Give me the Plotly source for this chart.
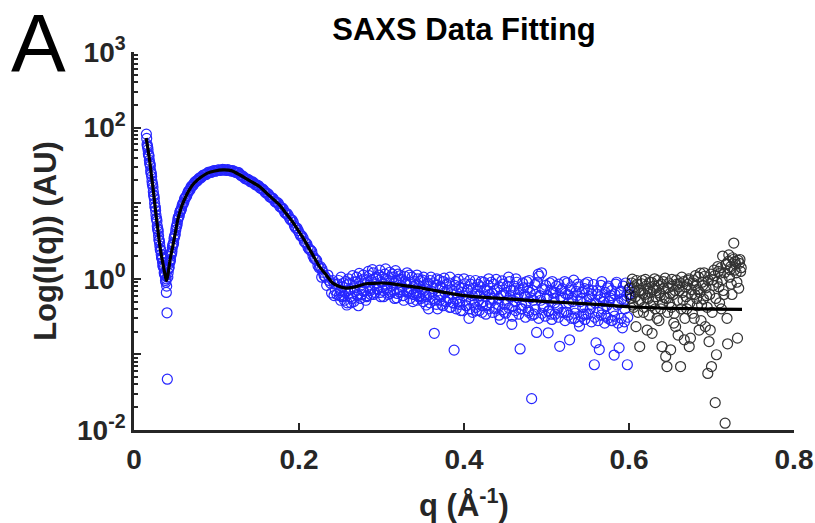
import plotly.graph_objects as go

# --- datos (q en 1/A, I en unidades arbitrarias) ---

# curva ajustada
q_fit = [0.0148, 0.0168, 0.0188, 0.0208, 0.0228, 0.0249, 0.0269, 0.0289, 0.0309, 0.0330,
         0.0350, 0.0370, 0.0390, 0.0395, 0.0410, 0.0440, 0.0470, 0.0500, 0.0530, 0.0570,
         0.0610, 0.0670, 0.0730, 0.0810, 0.0890, 0.0980, 0.1080, 0.1180, 0.1280, 0.1400,
         0.1520, 0.1640, 0.1760, 0.1840, 0.1920, 0.2000, 0.2086, 0.2170, 0.2247, 0.2330,
         0.2408, 0.2490, 0.2570, 0.2650, 0.2730, 0.2810, 0.2900, 0.3000, 0.3100, 0.3250,
         0.3420, 0.3600, 0.3800, 0.4000, 0.4300, 0.4670, 0.5000, 0.5400, 0.5700, 0.6000,
         0.6500, 0.7000, 0.7370]
I_fit = [73, 53, 37.5, 25, 16.6, 10.5, 6.7, 4.5, 2.97, 2.1,
         1.6, 1.22, 0.97, 0.95, 1.12, 1.86, 2.7, 4.0, 6.0, 8.6,
         11.1, 15.0, 18.5, 22.0, 25.0, 26.7, 27.6, 27.0, 23.8, 19.9,
         16.6, 12.6, 9.55, 7.4, 5.7, 4.2, 2.97, 2.04, 1.46, 1.12,
         0.877, 0.79, 0.753, 0.77, 0.81, 0.86, 0.87, 0.88, 0.87, 0.82,
         0.776, 0.716, 0.65, 0.60, 0.565, 0.53, 0.50, 0.473, 0.452, 0.427,
         0.407, 0.398, 0.394]

# datos usados en el ajuste (azul), zona suave
q_blue_low = [0.0150, 0.0158, 0.0166, 0.0174, 0.0182, 0.0190, 0.0198, 0.0206, 0.0214, 0.0222,
              0.0230, 0.0238, 0.0246, 0.0254, 0.0262, 0.0270, 0.0278, 0.0286, 0.0294, 0.0302,
              0.0310, 0.0318, 0.0326, 0.0334, 0.0342, 0.0350, 0.0358, 0.0366, 0.0374, 0.0382,
              0.0390, 0.0392, 0.0396, 0.0400, 0.0404, 0.0410, 0.0418, 0.0426, 0.0434, 0.0442,
              0.0450, 0.0460, 0.0470, 0.0480, 0.0490, 0.0500, 0.0512, 0.0524, 0.0536, 0.0548,
              0.0560, 0.0575, 0.0590, 0.0605, 0.0620, 0.0640, 0.0660, 0.0680, 0.0700, 0.0720,
              0.0745, 0.0770, 0.0795, 0.0820, 0.0850, 0.0880, 0.0910, 0.0940, 0.0970, 0.1000,
              0.1030, 0.1060, 0.1090, 0.1120, 0.1150, 0.1180, 0.1210, 0.1240, 0.1270, 0.1300,
              0.1330, 0.1360, 0.1390, 0.1420, 0.1450, 0.1480, 0.1510, 0.1540, 0.1570, 0.1600,
              0.1630, 0.1660, 0.1690, 0.1720, 0.1750, 0.1780, 0.1810, 0.1840, 0.1870, 0.1900,
              0.1930, 0.1960, 0.1990, 0.2020, 0.2050, 0.2080, 0.2110, 0.2140, 0.2170, 0.2200,
              0.2230, 0.2260, 0.2275, 0.2290, 0.2320, 0.2335, 0.2350, 0.2380, 0.2395, 0.2410,
              0.2425, 0.2440]
I_blue_low = [82, 60, 55, 45, 42, 34, 31, 25, 22.5, 18,
              16.2, 12.8, 11.5, 9.0, 8.0, 6.3, 5.8, 4.6, 4.2, 3.3,
              3.0, 2.45, 2.35, 1.9, 1.85, 1.5, 1.5, 1.2, 1.2, 0.95,
              1.0, 0.66, 0.80, 0.355, 0.047, 1.05, 1.35, 1.42, 1.72, 1.8,
              2.2, 2.3, 2.8, 3.0, 3.6, 3.9, 4.8, 5.4, 6.5, 6.8,
              7.9, 8.4, 9.8, 10.4, 11.8, 12.6, 14.4, 15.2, 16.9, 17.5,
              19.4, 20.0, 21.6, 22.1, 23.8, 24.2, 25.8, 25.7, 26.9, 26.8,
              27.7, 27.3, 27.9, 27.2, 27.5, 26.6, 26.5, 25.4, 25.3, 23.0,
              22.3, 20.9, 20.4, 19.1, 18.6, 17.4, 17.0, 15.6, 15.0, 13.6,
              13.1, 11.9, 11.4, 10.3, 9.9, 8.8, 8.3, 7.3, 6.9, 6.0,
              5.6, 4.7, 4.35, 3.7, 3.45, 3.0, 2.6, 2.4, 2.0, 1.82,
              1.5, 1.45, 1.05, 1.22, 1.05, 0.82, 1.12, 0.88, 0.65, 0.95,
              0.60, 0.70]

# puntos intermedios de la misma zona
q_blue_low2 = [0.0154, 0.0162, 0.0170, 0.0178, 0.0186, 0.0194, 0.0202, 0.0210, 0.0218, 0.0226,
               0.0234, 0.0242, 0.0250, 0.0258, 0.0266, 0.0274, 0.0282, 0.0290, 0.0298, 0.0306,
               0.0314, 0.0322, 0.0330, 0.0338, 0.0346, 0.0354, 0.0362, 0.0370, 0.0378, 0.0386,
               0.0414, 0.0422, 0.0430, 0.0438, 0.0446, 0.0455, 0.0465, 0.0475, 0.0485, 0.0495,
               0.0506, 0.0518, 0.0530, 0.0542, 0.0554, 0.0567, 0.0582, 0.0597, 0.0612, 0.0630,
               0.0650, 0.0670, 0.0690, 0.0710, 0.0732, 0.0757, 0.0782, 0.0807, 0.0835, 0.0865,
               0.0895, 0.0925, 0.0955, 0.0985, 0.1015, 0.1045, 0.1075, 0.1105, 0.1135, 0.1165,
               0.1195, 0.1225, 0.1255, 0.1285, 0.1315, 0.1345, 0.1375, 0.1405, 0.1435, 0.1465,
               0.1495, 0.1525, 0.1555, 0.1585, 0.1615, 0.1645, 0.1675, 0.1705, 0.1735, 0.1765,
               0.1795, 0.1825, 0.1855, 0.1885, 0.1915, 0.1945, 0.1975, 0.2005, 0.2035, 0.2065,
               0.2095, 0.2125, 0.2155, 0.2185, 0.2215, 0.2245, 0.2278, 0.2305, 0.2365, 0.2428]
I_blue_low2 = [72, 57, 51, 43, 37, 33, 27, 24.5, 19.5, 17.5,
               14.2, 12.4, 10.0, 8.8, 7.0, 6.2, 5.0, 4.5, 3.7, 3.2,
               2.7, 2.4, 2.1, 1.95, 1.65, 1.45, 1.38, 1.15, 1.1, 0.9,
               1.2, 1.38, 1.6, 1.7, 2.0, 2.15, 2.6, 2.85, 3.4, 3.7,
               4.4, 5.0, 6.0, 6.6, 7.5, 8.0, 9.2, 9.9, 11.3, 12.0,
               13.6, 14.6, 16.3, 17.0, 18.6, 19.4, 21.0, 21.6, 23.3, 23.8,
               25.3, 25.5, 26.6, 26.5, 27.5, 27.2, 28.0, 27.3, 27.8, 26.9,
               26.9, 25.8, 25.6, 23.9, 23.0, 21.2, 20.8, 19.5, 19.2, 17.8,
               17.3, 16.0, 15.5, 14.2, 13.6, 12.2, 11.8, 10.6, 10.3, 9.1,
               8.7, 7.6, 7.3, 6.3, 6.0, 5.0, 4.7, 4.0, 3.7, 3.1,
               2.9, 2.45, 2.3, 1.85, 1.75, 1.4, 1.35, 1.1, 0.95, 0.85]

# datos usados en el ajuste (azul), zona ruidosa
q_blue_high = [0.246, 0.248, 0.250, 0.252, 0.254, 0.256, 0.258, 0.260, 0.262, 0.264,
               0.266, 0.268, 0.270, 0.272, 0.274, 0.276, 0.278, 0.280, 0.282, 0.284,
               0.286, 0.288, 0.290, 0.292, 0.294, 0.296, 0.298, 0.300, 0.302, 0.304,
               0.306, 0.308, 0.310, 0.312, 0.314, 0.316, 0.318, 0.320, 0.322, 0.324,
               0.326, 0.328, 0.330, 0.332, 0.334, 0.336, 0.338, 0.340, 0.342, 0.344,
               0.346, 0.348, 0.350, 0.352, 0.354, 0.356, 0.358, 0.360, 0.362, 0.364,
               0.366, 0.368, 0.370, 0.372, 0.374, 0.376, 0.378, 0.380, 0.382, 0.384,
               0.386, 0.388, 0.390, 0.392, 0.394, 0.396, 0.398, 0.400, 0.402, 0.404,
               0.406, 0.408, 0.410, 0.412, 0.414, 0.416, 0.418, 0.420, 0.422, 0.424,
               0.426, 0.428, 0.430, 0.432, 0.434, 0.436, 0.438, 0.440, 0.442, 0.444,
               0.446, 0.448, 0.450, 0.452, 0.454, 0.456, 0.458, 0.460, 0.462, 0.464,
               0.466, 0.468, 0.470, 0.472, 0.474, 0.476, 0.478, 0.480, 0.482, 0.484,
               0.486, 0.488, 0.490, 0.492, 0.494, 0.496, 0.498, 0.500, 0.502, 0.504,
               0.506, 0.508, 0.510, 0.512, 0.514, 0.516, 0.518, 0.520, 0.522, 0.524,
               0.526, 0.528, 0.530, 0.532, 0.534, 0.536, 0.538, 0.540, 0.542, 0.544,
               0.546, 0.548, 0.550, 0.552, 0.554, 0.556, 0.558, 0.560, 0.562, 0.564,
               0.566, 0.568, 0.570, 0.572, 0.574, 0.576, 0.578, 0.580, 0.582, 0.584,
               0.586, 0.588, 0.590, 0.592, 0.594, 0.596, 0.598, 0.600]
I_blue_high = [0.62, 0.95, 0.70, 0.58, 0.88, 0.66, 0.45, 1.0, 0.72, 0.55,
               0.90, 0.68, 1.05, 0.44, 0.80, 0.62, 1.12, 0.88, 0.58, 1.25,
               0.74, 0.95, 1.2, 0.66, 1.05, 0.82, 1.3, 0.90, 0.70, 1.15,
               0.98, 0.62, 1.22, 0.80, 1.05, 0.55, 0.93, 1.15, 0.72, 0.98,
               0.60, 1.08, 0.85, 0.66, 1.12, 0.74, 0.50, 0.92, 0.64, 1.0,
               0.80, 0.55, 0.96, 0.70, 0.45, 0.88, 0.62, 1.05, 0.75, 0.19,
               0.82, 0.40, 0.96, 0.58, 0.75, 1.02, 0.50, 0.70, 0.88, 0.42,
               0.62, 0.114, 0.92, 0.55, 0.78, 0.38, 0.66, 1.0, 0.52, 0.72,
               0.30, 0.85, 0.60, 0.45, 0.95, 0.68, 0.52, 0.78, 0.36, 0.90,
               0.58, 0.70, 1.0, 0.48, 0.64, 0.85, 0.40, 0.72, 0.55, 0.29,
               0.94, 0.62, 0.46, 0.80, 1.05, 0.58, 0.25, 0.70, 0.50, 0.90,
               0.64, 0.118, 0.45, 0.76, 0.58, 0.92, 0.38, 0.66, 0.026, 0.52,
               0.84, 0.195, 1.15, 0.60, 1.2, 0.42, 0.72, 0.55, 0.193, 0.88,
               0.34, 0.65, 0.48, 0.80, 0.40, 0.128, 0.70, 0.56, 0.92, 0.36,
               0.62, 0.156, 0.78, 0.50, 0.30, 0.68, 0.85, 0.236, 0.55, 0.42,
               0.74, 0.34, 0.90, 0.58, 0.46, 0.70, 0.073, 0.142, 0.62, 0.116,
               0.82, 0.40, 0.55, 0.32, 0.76, 0.50, 0.60, 0.28, 0.098, 0.85,
               0.45, 0.122, 0.68, 0.225, 0.52, 0.88, 0.073, 0.62]

q_blue_high2 = [0.247, 0.249, 0.251, 0.253, 0.255, 0.257, 0.259, 0.261, 0.263, 0.265,
                0.267, 0.269, 0.271, 0.273, 0.275, 0.277, 0.279, 0.281, 0.283, 0.285,
                0.287, 0.289, 0.291, 0.293, 0.295, 0.297, 0.299, 0.301, 0.303, 0.305,
                0.307, 0.309, 0.311, 0.313, 0.315, 0.317, 0.319, 0.321, 0.323, 0.325,
                0.327, 0.329, 0.331, 0.333, 0.335, 0.337, 0.339, 0.341, 0.343, 0.345,
                0.347, 0.349, 0.351, 0.353, 0.355, 0.357, 0.359, 0.361, 0.363, 0.365,
                0.367, 0.369, 0.371, 0.373, 0.375, 0.377, 0.379, 0.381, 0.383, 0.385,
                0.387, 0.389, 0.391, 0.393, 0.395, 0.397, 0.399, 0.401, 0.403, 0.405,
                0.407, 0.409, 0.411, 0.413, 0.415, 0.417, 0.419, 0.421, 0.423, 0.425,
                0.427, 0.429, 0.431, 0.433, 0.435, 0.437, 0.439, 0.441, 0.443, 0.445,
                0.447, 0.449, 0.451, 0.453, 0.455, 0.457, 0.459, 0.461, 0.463, 0.465,
                0.467, 0.469, 0.471, 0.473, 0.475, 0.477, 0.479, 0.481, 0.483, 0.485,
                0.487, 0.489, 0.491, 0.493, 0.495, 0.497, 0.499, 0.501, 0.503, 0.505,
                0.507, 0.509, 0.511, 0.513, 0.515, 0.517, 0.519, 0.521, 0.523, 0.525,
                0.527, 0.529, 0.531, 0.533, 0.535, 0.537, 0.539, 0.541, 0.543, 0.545,
                0.547, 0.549, 0.551, 0.553, 0.555, 0.557, 0.559, 0.561, 0.563, 0.565,
                0.567, 0.569, 0.571, 0.573, 0.575, 0.577, 0.579, 0.581, 0.583, 0.585,
                0.587, 0.589, 0.591, 0.593, 0.595, 0.597, 0.599]
I_blue_high2 = [0.85, 0.60, 1.05, 0.78, 0.52, 0.92, 0.70, 0.86, 0.48, 1.1,
                0.76, 0.92, 0.60, 1.18, 0.95, 0.70, 1.0, 0.52, 0.90, 1.1,
                0.62, 1.32, 0.85, 1.0, 0.72, 1.12, 0.58, 1.05, 0.85, 1.35,
                0.76, 0.95, 0.68, 1.15, 0.88, 1.28, 0.64, 0.96, 1.1, 0.78,
                0.52, 0.92, 1.2, 0.70, 0.90, 1.05, 0.62, 0.82, 1.12, 0.58,
                0.94, 0.72, 1.05, 0.62, 0.84, 0.40, 0.95, 0.68, 0.88, 0.52,
                1.0, 0.62, 0.78, 0.46, 0.92, 0.66, 0.85, 0.55, 1.05, 0.72,
                0.48, 0.82, 0.65, 0.98, 0.50, 0.76, 0.60, 0.86, 0.44, 0.70,
                0.95, 0.52, 0.75, 0.62, 0.38, 0.84, 0.60, 0.92, 0.50, 0.72,
                0.44, 0.82, 0.62, 0.90, 0.55, 0.70, 0.98, 0.46, 0.78, 0.60,
                0.85, 0.36, 0.66, 0.52, 0.92, 0.70, 0.44, 0.80, 1.0, 0.56,
                0.72, 0.40, 0.88, 0.62, 0.48, 0.76, 0.95, 0.56, 0.70, 0.34,
                0.62, 0.90, 1.08, 0.52, 0.74, 0.44, 0.82, 0.60, 0.38, 0.70,
                0.92, 0.55, 0.66, 0.42, 0.85, 0.58, 0.74, 0.36, 0.64, 0.88,
                0.48, 0.70, 0.56, 0.96, 0.42, 0.60, 0.78, 0.50, 0.66, 0.34,
                0.86, 0.52, 0.72, 0.40, 0.62, 0.84, 0.48, 0.70, 0.36, 0.58,
                0.92, 0.50, 0.66, 0.44, 0.80, 0.56, 0.70, 0.38, 0.62, 0.90,
                0.48, 0.66, 0.54, 0.80, 0.40, 0.60, 0.72]

# parte baja de la banda ruidosa
q_blue_high3 = [0.2505, 0.2545, 0.2585, 0.2625, 0.2665, 0.2705, 0.2745, 0.2785, 0.2825, 0.2865,
                0.2905, 0.2945, 0.2985, 0.3025, 0.3065, 0.3105, 0.3145, 0.3185, 0.3225, 0.3265,
                0.3305, 0.3345, 0.3385, 0.3425, 0.3465, 0.3505, 0.3545, 0.3585, 0.3625, 0.3665,
                0.3705, 0.3745, 0.3785, 0.3825, 0.3865, 0.3905, 0.3945, 0.3985, 0.4025, 0.4065,
                0.4105, 0.4145, 0.4185, 0.4225, 0.4265, 0.4305, 0.4345, 0.4385, 0.4425, 0.4465,
                0.4505, 0.4545, 0.4585, 0.4625, 0.4665, 0.4705, 0.4745, 0.4785, 0.4825, 0.4865,
                0.4905, 0.4945, 0.4985, 0.5025, 0.5065, 0.5105, 0.5145, 0.5185, 0.5225, 0.5265,
                0.5305, 0.5345, 0.5385, 0.5425, 0.5465, 0.5505, 0.5545, 0.5585, 0.5625, 0.5665,
                0.5705, 0.5745, 0.5785, 0.5825, 0.5865, 0.5905, 0.5945, 0.5985]
I_blue_high3 = [0.52, 0.60, 0.48, 0.58, 0.50, 0.62, 0.55, 0.68, 0.60, 0.70,
                0.62, 0.74, 0.66, 0.58, 0.72, 0.64, 0.70, 0.56, 0.66, 0.60,
                0.68, 0.55, 0.62, 0.52, 0.60, 0.50, 0.58, 0.48, 0.55, 0.46,
                0.52, 0.44, 0.50, 0.42, 0.48, 0.40, 0.46, 0.38, 0.44, 0.40,
                0.36, 0.42, 0.38, 0.44, 0.34, 0.40, 0.36, 0.42, 0.33, 0.39,
                0.35, 0.41, 0.32, 0.38, 0.34, 0.40, 0.31, 0.36, 0.33, 0.39,
                0.30, 0.35, 0.32, 0.37, 0.29, 0.34, 0.31, 0.36, 0.28, 0.33,
                0.30, 0.35, 0.27, 0.32, 0.29, 0.34, 0.27, 0.31, 0.28, 0.33,
                0.26, 0.30, 0.28, 0.32, 0.26, 0.30, 0.27, 0.31]

# datos excluidos del ajuste (negro)
q_black = [0.6010, 0.6025, 0.6040, 0.6055, 0.6070, 0.6085, 0.6100, 0.6115, 0.6130, 0.6145,
           0.6160, 0.6175, 0.6190, 0.6205, 0.6220, 0.6235, 0.6250, 0.6265, 0.6280, 0.6295,
           0.6310, 0.6325, 0.6340, 0.6355, 0.6370, 0.6385, 0.6400, 0.6415, 0.6430, 0.6445,
           0.6460, 0.6475, 0.6490, 0.6505, 0.6520, 0.6535, 0.6550, 0.6565, 0.6580, 0.6595,
           0.6610, 0.6625, 0.6640, 0.6655, 0.6670, 0.6685, 0.6700, 0.6715, 0.6730, 0.6745,
           0.6760, 0.6775, 0.6790, 0.6805, 0.6820, 0.6835, 0.6850, 0.6865, 0.6880, 0.6895,
           0.6910, 0.6925, 0.6940, 0.6955, 0.6970, 0.6985, 0.7000, 0.7015, 0.7030, 0.7045,
           0.7060, 0.7075, 0.7090, 0.7105, 0.7120, 0.7135, 0.7150, 0.7165, 0.7180, 0.7195,
           0.7210, 0.7225, 0.7240, 0.7255, 0.7270, 0.7285, 0.7300, 0.7315, 0.7330, 0.7345,
           0.7360]
I_black = [0.75, 0.55, 0.99, 0.42, 0.68, 0.233, 0.85, 0.50, 0.127, 0.70,
           0.95, 0.36, 0.62, 0.80, 0.21, 0.55, 0.90, 0.44, 0.19, 0.72,
           1.0, 0.58, 0.30, 0.82, 0.65, 0.40, 0.127, 0.92, 0.56, 0.094,
           0.069, 0.76, 0.48, 0.115, 0.98, 0.62, 0.35, 0.233, 0.85, 0.18,
           0.70, 0.069, 1.05, 0.52, 0.156, 0.78, 0.40, 0.95, 0.127, 0.164,
           0.62, 0.88, 0.30, 1.1, 0.55, 0.72, 0.21, 1.19, 0.45, 0.82,
           1.2, 0.233, 0.60, 0.056, 0.148, 0.21, 0.069, 0.97, 1.3, 0.023,
           0.099, 1.45, 0.78, 1.19, 0.40, 2.0, 0.62, 0.0123, 1.57, 0.138,
           2.07, 1.32, 0.85, 1.9, 2.97, 1.69, 1.2, 0.164, 0.75, 1.8,
           1.4]

q_black2 = [0.6018, 0.6033, 0.6048, 0.6063, 0.6078, 0.6093, 0.6108, 0.6123, 0.6138, 0.6153,
            0.6168, 0.6183, 0.6198, 0.6213, 0.6228, 0.6243, 0.6258, 0.6273, 0.6288, 0.6303,
            0.6318, 0.6333, 0.6348, 0.6363, 0.6378, 0.6393, 0.6408, 0.6423, 0.6438, 0.6453,
            0.6468, 0.6483, 0.6498, 0.6513, 0.6528, 0.6543, 0.6558, 0.6573, 0.6588, 0.6603,
            0.6618, 0.6633, 0.6648, 0.6663, 0.6678, 0.6693, 0.6708, 0.6723, 0.6738, 0.6753,
            0.6768, 0.6783, 0.6798, 0.6813, 0.6828, 0.6843, 0.6858, 0.6873, 0.6888, 0.6903,
            0.6918, 0.6933, 0.6948, 0.6963, 0.6978, 0.6993, 0.7008, 0.7023, 0.7038, 0.7053,
            0.7068, 0.7083, 0.7098, 0.7113, 0.7128, 0.7143, 0.7158, 0.7173, 0.7188, 0.7203,
            0.7218, 0.7233, 0.7248, 0.7263, 0.7278, 0.7293, 0.7308, 0.7323, 0.7338, 0.7353]
I_black2 = [0.62, 0.88, 0.45, 0.78, 0.58, 0.95, 0.36, 0.70, 0.52, 0.86,
            0.64, 0.42, 0.98, 0.56, 0.74, 0.33, 0.66, 0.90, 0.50, 0.80,
            0.40, 0.70, 0.95, 0.28, 0.60, 0.85, 0.46, 0.74, 1.02, 0.55,
            0.36, 0.88, 0.64, 0.42, 0.80, 0.26, 0.70, 0.96, 0.52, 0.78,
            0.88, 0.40, 0.66, 0.92, 0.30, 0.58, 0.84, 1.0, 0.48, 0.72,
            0.35, 0.95, 0.62, 0.80, 0.44, 1.05, 0.66, 0.28, 0.90, 0.54,
            1.08, 0.76, 0.42, 0.95, 0.62, 1.15, 0.36, 0.82, 1.1, 0.55,
            0.90, 1.25, 0.48, 1.4, 0.97, 0.70, 1.2, 1.55, 0.30, 1.7,
            1.05, 1.45, 0.62, 1.8, 1.3, 1.55, 0.90, 1.75, 1.6, 1.25]

q_blue = q_blue_low + q_blue_low2 + q_blue_high + q_blue_high2 + q_blue_high3
I_blue = I_blue_low + I_blue_low2 + I_blue_high + I_blue_high2 + I_blue_high3
q_exc = q_black + q_black2
I_exc = I_black + I_black2
assert len(q_blue) == len(I_blue) and len(q_exc) == len(I_exc)

y_ticks = [1e-2, 1e-1, 1, 10, 1e2, 1e3]
y_ticktext = ['10<sup>-2</sup>', '', '10<sup>0</sup>', '', '10<sup>2</sup>', '10<sup>3</sup>']
x_ticks = [0, 0.2, 0.4, 0.6, 0.8]
x_ticktext = ['0', '0.2', '0.4', '0.6', '0.8']

FONT = 'Liberation Sans, Arial, sans-serif'
AXIS_COLOR = '#262626'

fig = go.Figure()
fig.add_trace(go.Scatter(x=q_blue, y=I_blue, mode='markers', name='datos',
                         marker=dict(symbol='circle-open', size=10, color='rgb(0,0,255)',
                                     line=dict(width=1.2)),
                         opacity=0.85))
fig.add_trace(go.Scatter(x=q_exc, y=I_exc, mode='markers', name='excluidos',
                         marker=dict(symbol='circle-open', size=10, color='black',
                                     line=dict(width=1.2)),
                         opacity=0.8))
fig.add_trace(go.Scatter(x=q_fit, y=I_fit, mode='lines', name='ajuste',
                         line=dict(color='black', width=3.2, shape='spline', smoothing=0.6)))

minor_vals = [m * 10 ** e for e in range(-2, 3) for m in range(2, 10)]

fig.update_layout(
    width=815, height=523,
    margin=dict(l=134, r=21, t=52, b=93, autoexpand=False),
    paper_bgcolor='white', plot_bgcolor='white',
    showlegend=False,
    font=dict(family=FONT, color=AXIS_COLOR),
    title=dict(text='SAXS Data Fitting', x=0.5, xref='paper', xanchor='center',
               y=0.944, yanchor='middle', automargin=False,
               font=dict(family=FONT, size=31, color='black', weight='bold')),
    xaxis=dict(range=[0, 0.8], tickvals=x_ticks, ticktext=x_ticktext, automargin=False,
               ticks='inside', ticklen=7, tickwidth=2, tickcolor=AXIS_COLOR,
               showline=True, linewidth=2.5, linecolor=AXIS_COLOR, mirror=False,
               showgrid=False, zeroline=False, ticklabelstandoff=3,
               tickfont=dict(family=FONT, size=28, color=AXIS_COLOR, weight='bold'),
               title=dict(text='q (Å<sup>-1</sup>)', standoff=21,
                          font=dict(family=FONT, size=31, color=AXIS_COLOR, weight='bold'))),
    yaxis=dict(type='log', range=[-2, 3], tickvals=y_ticks, ticktext=y_ticktext,
               automargin=False,
               ticks='inside', ticklen=7, tickwidth=2, tickcolor=AXIS_COLOR,
               minor=dict(tickvals=minor_vals, ticks='inside', ticklen=4,
                          tickwidth=1.5, tickcolor=AXIS_COLOR, showgrid=False),
               showline=True, linewidth=2.5, linecolor=AXIS_COLOR, mirror=False,
               showgrid=False, zeroline=False, ticklabelstandoff=0,
               tickfont=dict(family=FONT, size=28, color=AXIS_COLOR, weight='bold'),
               title=dict(text='Log(I(q)) (AU)', standoff=12,
                          font=dict(family=FONT, size=31, color=AXIS_COLOR, weight='bold'))),
)

# letra del panel
fig.add_annotation(text='A', xref='paper', yref='paper', x=-0.189, y=1.026,
                   xanchor='left', yanchor='middle', showarrow=False,
                   font=dict(family=FONT, size=82, color='black'))

# sin margen en el body, la figura ocupa exactamente la ventana
fig.write_html("out.html", config={'displayModeBar': False},
               post_script="document.body.style.margin = '0';")
